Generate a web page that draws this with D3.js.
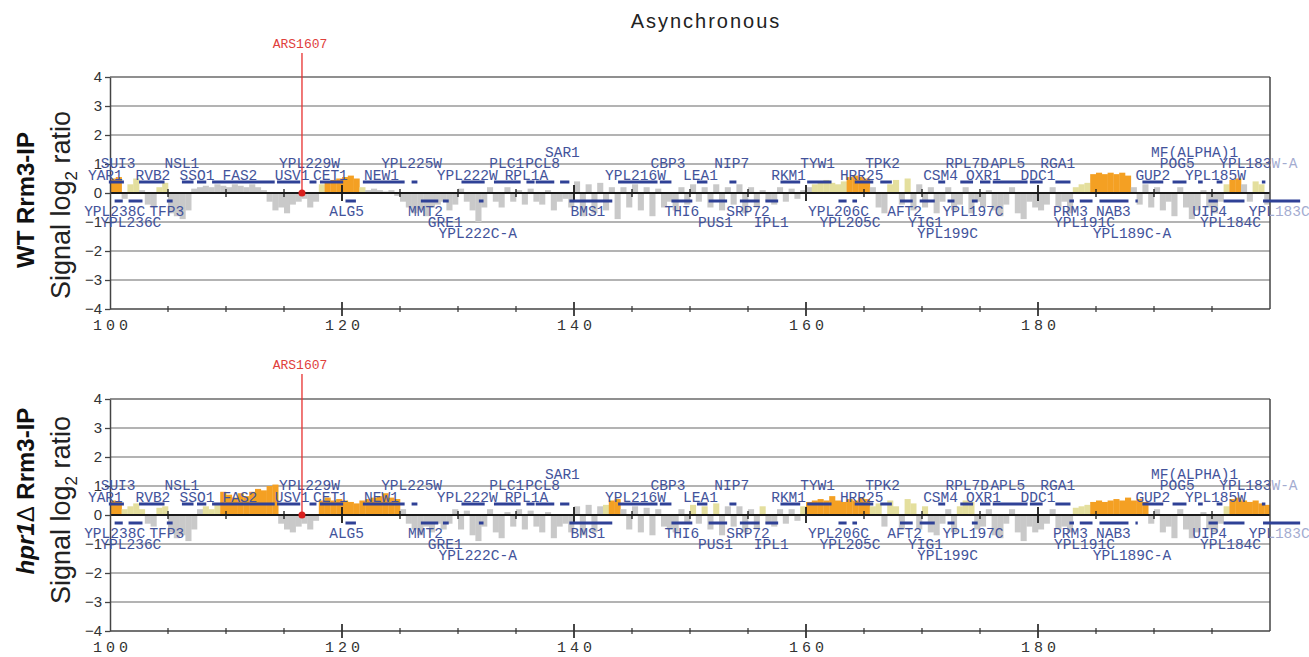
<!DOCTYPE html>
<html>
<head>
<meta charset="utf-8">
<script src="https://cdn.jsdelivr.net/npm/d3@7"></script>
<style>
body { margin: 0; background: #fff; }
</style>
</head>
<body>
<svg id="chart" width="1309" height="657"></svg>
<script>

// signal in 0.5 kb bins, starting at 100 kb (log2 ratio)
var binStart = 100, binSize = 0.5;

var wtSignal = [
 0.5, 0.55, -0.2, 0.3, 0.5, 0.1, -0.4, -0.5, 0.2, 0.35,
 -0.7, -0.8, -0.9, -0.6, 0.15, 0.2, 0.25, 0.2, 0.3, 0.25,
 0.2, 0.3, 0.25, 0.2, 0.3, 0.2, 0.1, -0.3, -0.6, -0.5,
 -0.7, -0.4, -0.3, -0.2, -0.5, -0.3, 0.3, 0.4, 0.45, 0.5,
 0.55, 0.6, 0.5, 0.2, 0.1, 0.15, 0.1, 0.05, 0.1, -0.1,
 -0.3, -0.5, -0.7, -0.6, -0.8, -0.5, -0.4, -0.3, -0.6, -0.4,
 0.15, -0.3, -0.6, -1.0, -0.5, 0.2, -0.3, -0.5, 0.2, -0.3,
 0.1, -0.4, 0.15, -0.3, -0.4, 0.1, -0.6, -0.3, -0.2, -0.5,
 0.4, -0.8, 0.3, -0.7, 0.35, -0.6, 0.2, -0.9, 0.2, -0.5,
 0.3, -0.6, 0.2, -0.8, 0.15, -0.5, -0.3, -0.6, 0.2, -0.4,
 0.3, -0.3, 0.2, -0.5, 0.3, -0.6, 0.2, -0.4, 0.3, -0.7,
 0.2, -0.5, 0.1, -0.3, -0.4, 0.2, -0.3, 0.15, -0.2, 0.1,
 0.2, 0.3, 0.4, 0.45, 0.35, 0.3, 0.4, 0.55, 0.6, 0.55,
 0.5, 0.2, -0.5, -0.7, 0.3, 0.45, -0.4, 0.5, -0.6, 0.3,
 -0.5, 0.2, -0.7, -0.3, 0.2, -0.6, -0.4, 0.2, -0.7, -0.3,
 -0.5, 0.1, -0.6, -0.8, -0.4, 0.2, -0.7, -0.9, -0.3, -0.5,
 -0.6, -0.4, 0.2, -0.5, -0.3, -0.7, 0.2, 0.3, 0.35, 0.65,
 0.7, 0.65, 0.7, 0.65, 0.7, 0.6, 0.2, -0.4, 0.3, -0.5,
 0.2, -0.6, -0.3, -0.8, 0.2, -0.5, -0.9, -0.6, 0.1, -0.5,
 -0.7, -0.3, 0.3, 0.45, 0.5, 0.3, -0.3, 0.4, 0.3, -0.4
];

var hprSignal = [
 0.5, 0.45, 0.2, 0.3, 0.4, 0.2, -0.3, -0.4, 0.25, 0.3,
 -0.6, -0.8, -0.7, -0.9, -0.5, 0.2, 0.3, 0.2, 0.4, 0.8,
 0.7, 0.6, 0.75, 0.65, 0.8, 0.9, 0.85, 1.0, 1.05, -0.3,
 -0.5, -0.6, -0.4, -0.3, -0.5, -0.2, 0.5, 0.6, 0.5, 0.55,
 0.5, 0.45, 0.4, 0.5, 0.55, 0.6, 0.65, 0.75, 0.6, 0.55,
 0.2, -0.3, -0.5, -0.7, -0.4, -0.6, -0.3, -0.5, -0.3, 0.2,
 -0.5, 0.15, -0.7, -0.9, -0.4, 0.2, -0.6, -0.8, 0.1, -0.4,
 0.2, -0.5, 0.15, -0.4, -0.6, 0.1, -0.8, -0.4, -0.3, -0.6,
 0.3, -0.7, 0.35, -0.6, 0.3, 0.35, 0.5, 0.55, 0.2, -0.5,
 0.3, -0.6, 0.25, -0.7, 0.2, -0.4, -0.5, -0.6, 0.2, -0.3,
 0.35, -0.3, 0.3, -0.5, 0.4, -0.7, 0.3, -0.4, 0.3, -0.6,
 0.2, -0.5, 0.3, -0.3, -0.4, 0.2, -0.3, 0.2, -0.2, 0.3,
 0.45, 0.5, 0.55, 0.5, 0.65, 0.5, 0.45, 0.55, 0.5, 0.6,
 0.55, 0.3, 0.4, -0.4, 0.5, 0.3, -0.5, 0.55, 0.4, -0.5,
 0.3, -0.6, -0.7, -0.3, 0.2, -0.6, 0.3, 0.5, 0.45, -0.5,
 -0.4, 0.2, -0.7, -0.8, -0.3, 0.2, -0.6, -0.9, -0.4, -0.6,
 -0.5, -0.3, 0.2, -0.5, -0.4, -0.6, 0.25, 0.3, 0.35, 0.45,
 0.5, 0.45, 0.5, 0.55, 0.5, 0.6, 0.5, 0.55, 0.45, -0.3,
 0.2, -0.6, -0.4, -0.8, 0.2, -0.5, -0.8, -0.6, 0.1, -0.5,
 -0.6, -0.3, 0.3, 0.55, 0.6, 0.5, 0.45, 0.5, 0.4, 0.35
];

// enriched regions (kb): strong = orange, weak = yellow
var wtOrange = [[100,101],[118.5,121.5],[163.5,165.5],[184.5,188],[196.5,197.5]];
var wtYellow = [[101.5,102.5],[104,105],[118,118.5],[121.5,122],[160.5,163.5],[167,168],[168.5,169],[183,184.5],[196,196.5],[198.5,199.5]];
var hprOrange = [[100,101],[109.5,114.5],[118,125],[143,144],[160,165.5],[184.5,189.5],[196.5,200]];
var hprYellow = [[101,103],[104,105],[108,109.5],[142.5,143],[150,150.5],[151,151.5],[152,152.5],[156,156.5],[159.5,160],[165.5,166.5],[167,168],[168.5,169.5],[170,170.5],[173,174.5],[183,184.5],[196,196.5]];

// genes (kb)
var watsonGenes = [[99.9,101.2],[102.5,104.7],[106.2,107.2],[107.5,108.3],[108.8,114.2],[114.4,116.4],[117.2,117.8],[118.1,120.1],[121.8,125.4],[126,126.5],[130.3,132.3],[133.1,135.4],[135.9,136.6],[136.7,138.3],[138.8,139.6],[143.8,147.2],[147.4,148.4],[150.6,151.5],[153.4,154],[157.8,159.5],[160.1,162.2],[164.2,165.8],[166.4,167.4],[171.4,172],[173.3,174.4],[175,175.9],[176.1,179.1],[179.3,180.4],[181.5,182.8],[189,190.8],[191.6,192.8],[193.8,194.2],[195.4,195.9],[199.3,199.6]];
var crickGenes = [[100.4,101.1],[101.6,102.8],[104.9,105.4],[120.3,121.2],[126.8,128.3],[128.7,129.2],[131.8,132.2],[139.6,143.3],[148.4,150.2],[151.6,153.2],[154.3,156],[156.5,157.6],[162.8,163.5],[164,164.4],[168.1,169.2],[169.8,171.1],[172.2,172.8],[174.3,174.8],[182.7,183.1],[183.6,184.7],[185.3,187.8],[188.4,188.6],[194.7,195.5],[196,197.8],[199.4,202.6]];

// gene names: [name, kb, row]
var watsonNames = [["YAR1",99.6,1],["SUI3",100.7,2],["RVB2",103.7,1],["NSL1",106.2,2],["SSO1",107.5,1],["FAS2",111.2,1],["USV1",115.7,1],["YPL229W",117.2,2],["CET1",119.0,1],["NEW1",123.4,1],["YPL225W",126,2],["YPL222W",130.8,1],["PLC1",134.2,2],["PCL8",137.3,2],["RPL1A",135.9,1],["SAR1",139.0,3],["YPL216W",145.3,1],["CBP3",148.1,2],["LEA1",150.9,1],["NIP7",153.6,2],["RKM1",158.5,1],["TYW1",161,2],["HRR25",164.8,1],["TPK2",166.6,2],["CSM4",171.6,1],["RPL7D",173.9,2],["OXR1",175.3,1],["APL5",177.4,2],["DDC1",180,1],["RGA1",181.7,2],["GUP2",189.9,1],["POG5",192,2],["MF(ALPHA)1",193.5,3],["YPL185W",195.3,1],["YPL183W-A",199,2]];
var crickNames = [["YPL238C",100.4,1],["YPL236C",101.8,2],["TFP3",104.9,1],["ALG5",120.4,1],["MMT2",127.2,1],["GRE1",128.9,2],["YPL222C-A",131.7,3],["BMS1",141.2,1],["THI6",149.3,1],["PUS1",152.2,2],["SRP72",155,1],["IPL1",157,2],["YPL206C",162.8,1],["YPL205C",163.8,2],["AFT2",168.5,1],["YIG1",170.3,2],["YPL199C",172.2,3],["YPL197C",174.4,1],["PRM3",182.8,1],["YPL191C",184,2],["NAB3",186.5,1],["YPL189C-A",188.1,3],["UIP4",194.8,1],["YPL184C",196.6,2],["YPL183C",200.8,1]];

var origin = {name: "ARS1607", kb: 116.55};
var xTickLabels = [100, 120, 140, 160, 180];
var yTicks = [-4, -3, -2, -1, 0, 1, 2, 3, 4];

var svg = d3.select("#chart");
var x = d3.scaleLinear().domain([100, 200]).range([110, 1270]);

var defs = svg.append("defs");
defs.append("clipPath").attr("id", "plotclip")
  .append("rect").attr("x", 110).attr("y", 0).attr("width", 1160).attr("height", 657);

// gene names fade where they run past the right border
var edge = x(200) / 1309;
var grad = defs.append("linearGradient").attr("id", "namefill")
  .attr("gradientUnits", "userSpaceOnUse")
  .attr("x1", 0).attr("y1", 0).attr("x2", 1309).attr("y2", 0);
grad.append("stop").attr("offset", edge).attr("stop-color", "#42529a");
grad.append("stop").attr("offset", edge).attr("stop-color", "#a3abd0");

svg.append("text")
  .attr("x", 706).attr("y", 28)
  .attr("text-anchor", "middle")
  .style("font-family", "Liberation Sans, Arial, sans-serif")
  .style("font-size", "20px")
  .style("letter-spacing", "2px")
  .style("fill", "#222")
  .text("Asynchronous");

var panels = [
  {top: 77, signal: wtSignal, orange: wtOrange, yellow: wtYellow, strain: "WT", titleY: 200, sigY: 205, arsY: 48},
  {top: 399, signal: hprSignal, orange: hprOrange, yellow: hprYellow, strain: "hpr1", titleY: 491, sigY: 510, arsY: 369}
];

panels.forEach(drawPanel);

function inRegions(kb, regions) {
  return regions.some(function(r) { return kb >= r[0] && kb < r[1]; });
}

function drawPanel(p) {
  var y = d3.scaleLinear().domain([-4, 4]).range([p.top + 232, p.top]);
  var y0 = y(0);
  var g = svg.append("g");

  // grid lines
  g.selectAll(".grid")
    .data([-3, -2, -1, 1, 2, 3])
    .enter().append("line")
    .attr("x1", x(100)).attr("x2", x(200))
    .attr("y1", function(d) { return y(d); })
    .attr("y2", function(d) { return y(d); })
    .style("stroke", "#9a9a9a").style("stroke-width", 1.5);

  g.append("line").attr("x1", x(100)).attr("x2", x(200)).attr("y1", y(4)).attr("y2", y(4))
    .style("stroke", "#6a6a6a").style("stroke-width", 1.5);

  // signal bars
  var bins = p.signal.map(function(v, i) { return {kb: binStart + i * binSize, v: v}; });
  g.append("g").attr("clip-path", "url(#plotclip)")
    .selectAll("rect")
    .data(bins)
    .enter().append("rect")
    .attr("x", function(d) { return x(d.kb); })
    .attr("width", x(binStart + binSize) - x(binStart) + 0.3)
    .attr("y", function(d) { return Math.min(y(d.v), y0); })
    .attr("height", function(d) { return Math.abs(y(d.v) - y0); })
    .style("fill", function(d) {
      if (inRegions(d.kb, p.orange)) return "#f4a023";
      if (inRegions(d.kb, p.yellow)) return "#e4df9e";
      return "#c9c9c9";
    });

  // zero line and its ticks
  g.append("line").attr("x1", x(100)).attr("x2", x(200)).attr("y1", y0).attr("y2", y0)
    .style("stroke", "#1a1a1a").style("stroke-width", 2);

  var ticks5 = d3.range(105, 200, 5);
  g.selectAll(".zt").data(ticks5).enter().append("line")
    .attr("x1", function(d) { return x(d); }).attr("x2", function(d) { return x(d); })
    .attr("y1", function(d) { return y0 - (d % 20 === 0 ? 8 : 4); })
    .attr("y2", function(d) { return y0 + (d % 20 === 0 ? 8 : 4); })
    .style("stroke", "#1a1a1a").style("stroke-width", function(d) { return d % 20 === 0 ? 1.8 : 1.3; });

  // bottom axis
  var yb = y(-4);
  g.append("line").attr("x1", x(100)).attr("x2", x(200)).attr("y1", yb).attr("y2", yb)
    .style("stroke", "#444").style("stroke-width", 1.5);
  g.selectAll(".bt").data(ticks5).enter().append("line")
    .attr("x1", function(d) { return x(d); }).attr("x2", function(d) { return x(d); })
    .attr("y1", function(d) { return yb - (d % 20 === 0 ? 7 : 3); })
    .attr("y2", function(d) { return yb + (d % 20 === 0 ? 7 : 3); })
    .style("stroke", "#333").style("stroke-width", function(d) { return d % 20 === 0 ? 1.8 : 1.2; });

  var xa = g.append("g")
    .attr("transform", "translate(0," + (yb + 4) + ")")
    .call(d3.axisBottom(x).tickValues(xTickLabels).tickSize(0).tickPadding(6));
  xa.select(".domain").remove();
  xa.selectAll("text")
    .attr("dx", "2px")
    .style("font-family", "Liberation Mono, monospace")
    .style("font-size", "15px")
    .style("letter-spacing", "4px")
    .style("fill", "#333");

  // left axis
  var ya = g.append("g")
    .attr("transform", "translate(" + x(100) + ",0)")
    .call(d3.axisLeft(y).tickValues(yTicks).tickSize(5).tickSizeOuter(0).tickPadding(3)
      .tickFormat(function(d) { return d < 0 ? "\u2212" + (-d) : d; }));
  ya.select(".domain").style("stroke", "#444").style("stroke-width", 1.5);
  ya.selectAll(".tick line").style("stroke", "#444").style("stroke-width", 1.3);
  ya.selectAll("text")
    .style("font-family", "Liberation Sans, Arial, sans-serif")
    .style("font-size", "15px")
    .style("fill", "#333");

  // right border
  g.append("line").attr("x1", x(200)).attr("x2", x(200)).attr("y1", y(4)).attr("y2", yb)
    .style("stroke", "#444").style("stroke-width", 1.5);

  // gene bars
  g.selectAll(".wg").data(watsonGenes).enter().append("line")
    .attr("x1", function(d) { return x(d[0]); }).attr("x2", function(d) { return x(d[1]); })
    .attr("y1", y0 - 11).attr("y2", y0 - 11)
    .style("stroke", "#2f4196").style("stroke-width", 3);
  g.selectAll(".cg").data(crickGenes).enter().append("line")
    .attr("x1", function(d) { return x(d[0]); }).attr("x2", function(d) { return x(d[1]); })
    .attr("y1", y0 + 8).attr("y2", y0 + 8)
    .style("stroke", "#2f4196").style("stroke-width", 3);

  // gene names
  var wRow = {1: -18, 2: -30, 3: -41};
  var cRow = {1: 18, 2: 29, 3: 40};
  function addNames(list, rows) {
    g.selectAll(null).data(list).enter().append("text")
      .attr("x", function(d) { return x(d[1]); })
      .attr("y", function(d) { return y0 + rows[d[2]] + 5; })
      .attr("text-anchor", "middle")
      .style("font-family", "Liberation Mono, monospace")
      .style("font-size", "14.5px")
      .style("fill", "url(#namefill)")
      .text(function(d) { return d[0]; });
  }
  addNames(watsonNames, wRow);
  addNames(crickNames, cRow);

  // replication origin
  var ox = x(origin.kb);
  g.append("line").attr("x1", ox).attr("x2", ox).attr("y1", p.arsY + 5).attr("y2", y0)
    .style("stroke", "#e8312f").style("stroke-width", 1.3);
  g.append("circle").attr("cx", ox).attr("cy", y0).attr("r", 3.5).style("fill", "#d8201e");
  g.append("text")
    .attr("x", ox - 2).attr("y", p.arsY)
    .attr("text-anchor", "middle")
    .style("font-family", "Liberation Mono, monospace")
    .style("font-size", "13px")
    .style("fill", "#e0403c")
    .text(origin.name);

  // y titles
  var t1 = g.append("text")
    .attr("transform", "translate(34," + p.titleY + ") rotate(-90)")
    .attr("text-anchor", "middle")
    .style("font-family", "Liberation Sans, Arial, sans-serif")
    .style("font-size", "24px")
    .style("font-weight", "bold")
    .style("fill", "#111");
  if (p.strain === "WT") {
    t1.text("WT Rrm3-IP");
  } else {
    t1.append("tspan").style("font-style", "italic").text("hpr1");
    t1.append("tspan").style("font-weight", "normal").text("\u0394");
    t1.append("tspan").text(" Rrm3-IP");
  }

  var t2 = g.append("text")
    .attr("transform", "translate(70," + p.sigY + ") rotate(-90)")
    .attr("text-anchor", "middle")
    .style("font-family", "Liberation Sans, Arial, sans-serif")
    .style("font-size", "27px")
    .style("fill", "#222");
  t2.append("tspan").text("Signal log");
  t2.append("tspan").attr("dy", 7).style("font-size", "17px").text("2");
  t2.append("tspan").attr("dy", -7).text(" ratio");
}
</script>
</body>
</html>
